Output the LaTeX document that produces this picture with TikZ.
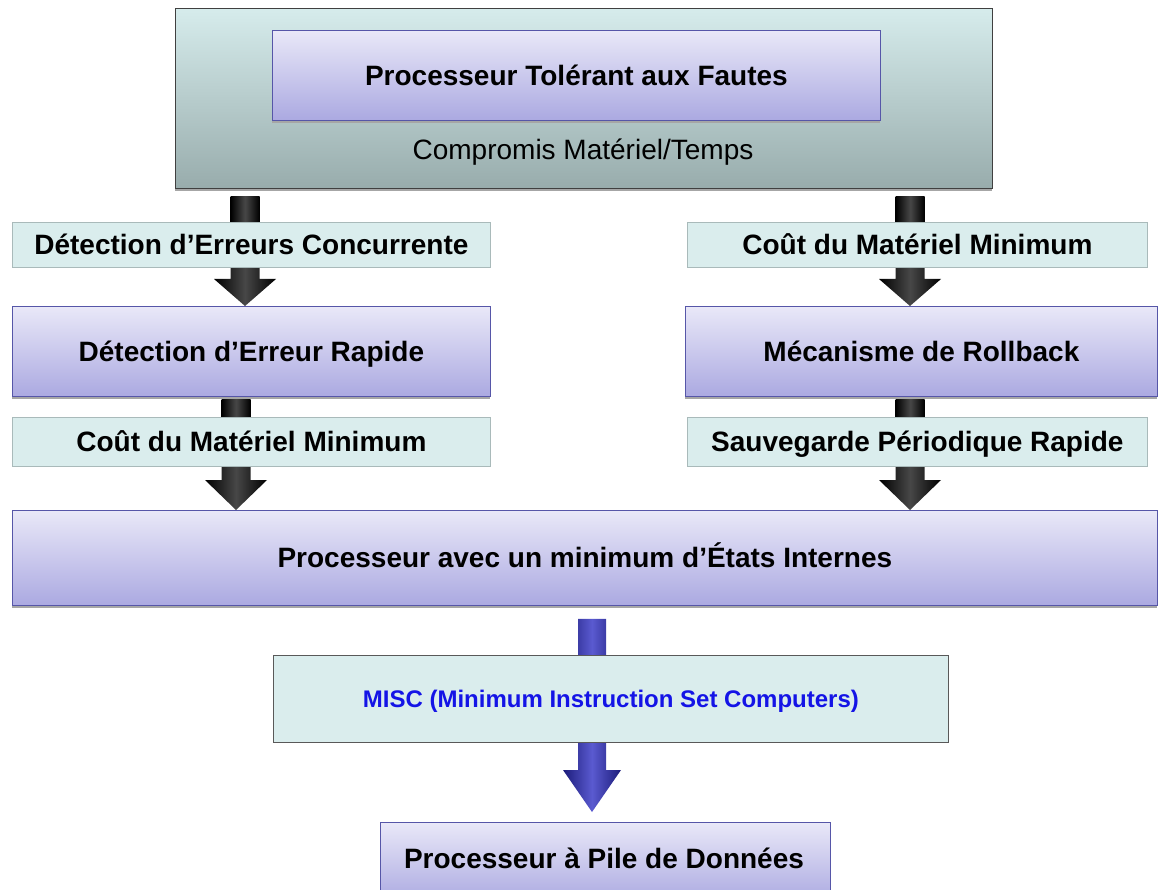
\documentclass[tikz,border=0pt]{standalone}
\usepackage{fontspec}
\setmainfont{Liberation Sans}
\usetikzlibrary{calc,shadows}
\pgfdeclarelayer{bg}
\pgfsetlayers{bg,main}
\definecolor{cyanfill}{HTML}{DAEDED}
\definecolor{cyanline}{HTML}{A9BABA}
\definecolor{toptop}{HTML}{D6ECEC}
\definecolor{topbot}{HTML}{98ACAC}
\definecolor{purptop}{HTML}{E9E8F8}
\definecolor{purpbot}{HTML}{ABA9E1}
\definecolor{purpline}{HTML}{5656A8}
\definecolor{arrdark}{HTML}{1C1C7A}
\definecolor{arrlight}{HTML}{5A5AD0}
\definecolor{misctext}{HTML}{1414E6}
\newcommand\blockarr[6]{%
  \path[#1] let \p1=(#2), \p2=(#3) in
    (\x1-#4,\y1) -- (\x1+#4,\y1) -- (\x1+#4,\y2+#6) -- (\x1+#5,\y2+#6)
    -- (\x2,\y2) -- (\x1-#5,\y2+#6) -- (\x1-#4,\y2+#6) -- cycle;}
\newcommand\stubarr[4]{%
  \path[#1] let \p1=(#2), \p2=(#3) in
    (\x1-#4,\y1) rectangle (\x1+#4,\y2);}
\tikzset{
  bigfont/.style={font=\fontsize{28}{32}\selectfont\bfseries, text height=20pt, text depth=0pt},
  cyanbox/.style={draw=cyanline, fill=cyanfill, line width=0.8pt, inner sep=0pt,
    anchor=north west, bigfont},
  purpbox/.style={draw=purpline, top color=purptop, bottom color=purpbot, line width=0.8pt,
    inner sep=0pt, anchor=north west, bigfont,
    drop shadow={shadow xshift=0pt, shadow yshift=-2.5pt, fill=black!35, opacity=1}},
  topbox/.style={draw=black!75, top color=toptop, bottom color=topbot, line width=0.8pt,
    inner sep=0pt, anchor=north west,
    drop shadow={shadow xshift=0pt, shadow yshift=-3pt, fill=black!35, opacity=1}},
  blackarr/.style={left color=black, right color=black, middle color=black!72},
  bluearr/.style={left color=arrdark, right color=arrdark, middle color=arrlight},
}
\begin{document}
\begin{tikzpicture}[x=1pt,y=-1pt]
\clip (0,0) rectangle (1159,890);
% top block
\node[topbox, minimum width=817pt, minimum height=180pt] (top) at (175,8) {};
\node[purpbox, minimum width=608pt, minimum height=90pt] (ptf) at (272,30)
  {Processeur Tolérant aux Fautes};
\node[font=\fontsize{28}{32}\selectfont, text height=20pt, text depth=0pt] (comp) at (583,150)
  {Compromis Matériel/Temps};
% row 1
\node[cyanbox, minimum width=478pt, minimum height=45pt] (dec) at (12,222)
  {Détection d’Erreurs Concurrente};
\node[cyanbox, minimum width=460pt, minimum height=45pt] (cmr) at (687,222)
  {Coût du Matériel Minimum};
% row 2
\node[purpbox, minimum width=478pt, minimum height=90pt] (der) at (12,306)
  {Détection d’Erreur Rapide};
\node[purpbox, minimum width=472pt, minimum height=90pt] (mr) at (685,306)
  {Mécanisme de Rollback};
% row 3
\node[cyanbox, minimum width=478pt, minimum height=49pt] (cml) at (12,417)
  {Coût du Matériel Minimum};
\node[cyanbox, minimum width=460pt, minimum height=49pt] (spr) at (687,417)
  {Sauvegarde Périodique Rapide};
% big
\node[purpbox, minimum width=1145pt, minimum height=95pt] (big) at (12,510)
  {Processeur avec un minimum d’États Internes};
% misc
\node[cyanbox, draw=black!65, minimum width=675pt, minimum height=87pt,
  font=\fontsize{24}{28}\selectfont\bfseries, text height=17pt, text depth=0pt,
  text=misctext] (misc) at (273,655)
  {MISC (Minimum Instruction Set Computers)};
% bottom
\node[purpbox, minimum width=450pt, minimum height=80pt] (pile) at (380,822) {};
\node[bigfont, anchor=center] (piletxt) at (604,858) {Processeur à Pile de Données};
% arrow x positions
\coordinate (xa) at (245,0);
\coordinate (xb) at (236,0);
\coordinate (xr) at (910,0);
\coordinate (xm) at (592,0);
\begin{pgfonlayer}{bg}
\stubarr{blackarr}{$(top.south -| xa)+(0,8)$}{$(dec.north -| xa)+(0,4)$}{14.5pt}
\stubarr{blackarr}{$(top.south -| xr)+(0,8)$}{$(cmr.north -| xr)+(0,4)$}{14.5pt}
\blockarr{blackarr}{$(dec.south -| xa)$}{$(der.north -| xa)$}{14.5pt}{31pt}{27pt}
\blockarr{blackarr}{$(cmr.south -| xr)$}{$(mr.north -| xr)$}{14.5pt}{31pt}{27pt}
\stubarr{blackarr}{$(der.south -| xb)+(0,3)$}{$(cml.north -| xb)+(0,4)$}{14.5pt}
\stubarr{blackarr}{$(mr.south -| xr)+(0,3)$}{$(spr.north -| xr)+(0,4)$}{14.5pt}
\blockarr{blackarr}{$(cml.south -| xb)$}{$(big.north -| xb)$}{14.5pt}{31pt}{30pt}
\blockarr{blackarr}{$(spr.south -| xr)$}{$(big.north -| xr)$}{14.5pt}{31pt}{30pt}
\blockarr{bluearr}{$(big.south -| xm)+(0,13)$}{$(pile.north -| xm)+(0,-10)$}{14pt}{29pt}{42pt}
\end{pgfonlayer}
\end{tikzpicture}
\end{document}
